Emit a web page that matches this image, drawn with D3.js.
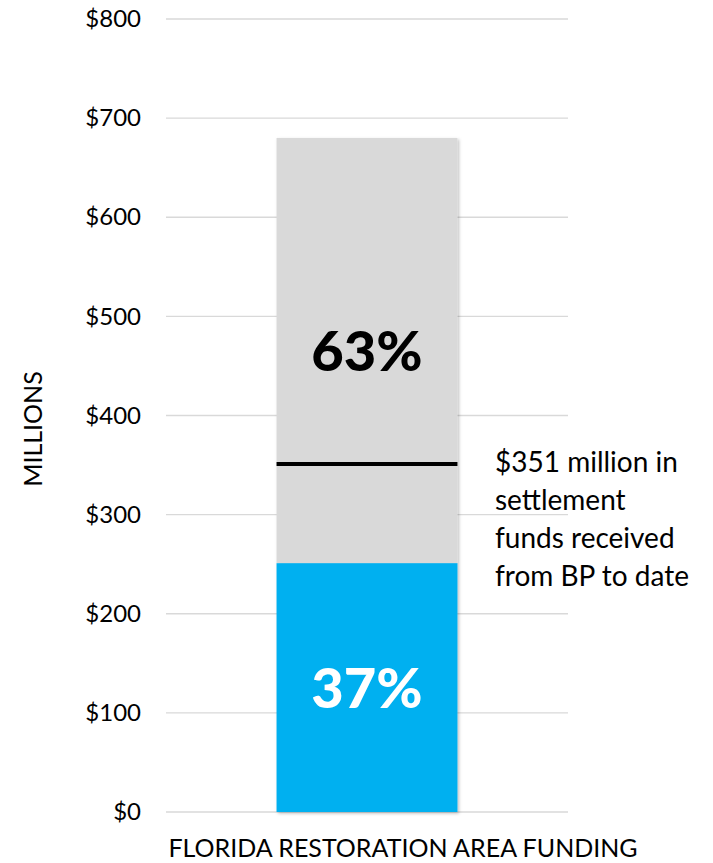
<!DOCTYPE html>
<html><head><meta charset="utf-8">
<script src="https://cdn.jsdelivr.net/npm/d3@7"></script>
<style>body{margin:0;background:#fff}svg{display:block}text{font-family:Lato,"Open Sans",sans-serif}</style>
</head><body><svg id="c" width="713" height="863"></svg>
<script>
const categories = ["FLORIDA RESTORATION AREA FUNDING"];
const receivedShare = [251];   // blue segment ($M)
const remainingShare = [429];  // gray segment ($M)
const percentLabels = ["37%", "63%"];
const receivedToDate = 351;
const annotationLines = ["$351 million in", "settlement", "funds received", "from BP to date"];
const yTicks = [0,100,200,300,400,500,600,700,800];

const svg = d3.select("#c");
const defs = svg.append("defs");
const f = defs.append("filter").attr("id","sh").attr("x","-10%").attr("y","-10%").attr("width","130%").attr("height","130%");
f.append("feDropShadow").attr("dx",1.5).attr("dy",1.5).attr("stdDeviation",1.5).attr("flood-color","#000").attr("flood-opacity",0.25);

const plot = {left:166, right:568, top:19, bottom:812};
const y = d3.scaleLinear().domain([0,800]).range([plot.bottom, plot.top]);
const x = d3.scaleBand().domain(categories).range([plot.left, plot.right]).paddingInner(0.55).paddingOuter(0.275);

// gridlines
svg.append("g").selectAll("line").data(yTicks).join("line")
  .attr("x1",plot.left).attr("x2",plot.right)
  .attr("y1",d=>y(d)).attr("y2",d=>y(d))
  .attr("stroke","#d9d9d9").attr("stroke-width",1.3);

// y axis labels
const yAxis = d3.axisLeft(y).tickValues(yTicks).tickFormat(d=>"$"+d).tickSize(0).tickPadding(0);
const ga = svg.append("g").attr("transform",`translate(${plot.left-25},0)`).call(yAxis);
ga.select(".domain").remove();
ga.selectAll("text").attr("font-size",24).attr("fill","#000").style("font-family","Lato");

// stacked bars
const stack = categories.map((c,i)=>({c, a:receivedShare[i], b:remainingShare[i]}));
const gb = svg.append("g").attr("filter","url(#sh)");
gb.selectAll("rect.g").data(stack).join("rect").attr("class","g")
  .attr("x",d=>x(d.c)).attr("width",x.bandwidth())
  .attr("y",d=>y(d.a+d.b)).attr("height",d=>y(d.a)-y(d.a+d.b)).attr("fill","#d9d9d9");
gb.selectAll("rect.b").data(stack).join("rect").attr("class","b")
  .attr("x",d=>x(d.c)).attr("width",x.bandwidth())
  .attr("y",d=>y(d.a)).attr("height",d=>y(0)-y(d.a)).attr("fill","#00b0f0");

// percent labels
stack.forEach(d=>{
  const cx = x(d.c)+x.bandwidth()/2;
  svg.append("text").attr("x",cx).attr("y",(y(0)+y(d.a))/2).attr("dy","0.36em")
    .attr("text-anchor","middle").attr("font-size",56).attr("font-weight",900).attr("fill","#fff").text(percentLabels[0]);
  svg.append("text").attr("x",cx).attr("y",(y(d.a)+y(d.a+d.b))/2).attr("dy","0.36em")
    .attr("text-anchor","middle").attr("font-size",56).attr("font-weight",900).attr("fill","#000").text(percentLabels[1]);
  // received marker line
  svg.append("line").attr("x1",x(d.c)).attr("x2",x(d.c)+x.bandwidth())
    .attr("y1",y(receivedToDate)).attr("y2",y(receivedToDate)).attr("stroke","#000").attr("stroke-width",4);
});

// annotation
const ann = svg.append("text").attr("x",495).attr("y",472).attr("font-size",28).attr("fill","#000");
ann.selectAll("tspan").data(annotationLines).join("tspan").attr("x",495).attr("dy",(d,i)=>i?38:0).text(d=>d);

// category label
svg.append("text").attr("x",403).attr("y",857).attr("text-anchor","middle").attr("font-size",25).attr("fill","#000").text(categories[0]);

// y axis title
svg.append("text").attr("transform","translate(42,429) rotate(-90)").attr("text-anchor","middle").attr("font-size",25).attr("fill","#000").text("MILLIONS");
</script></body></html>
